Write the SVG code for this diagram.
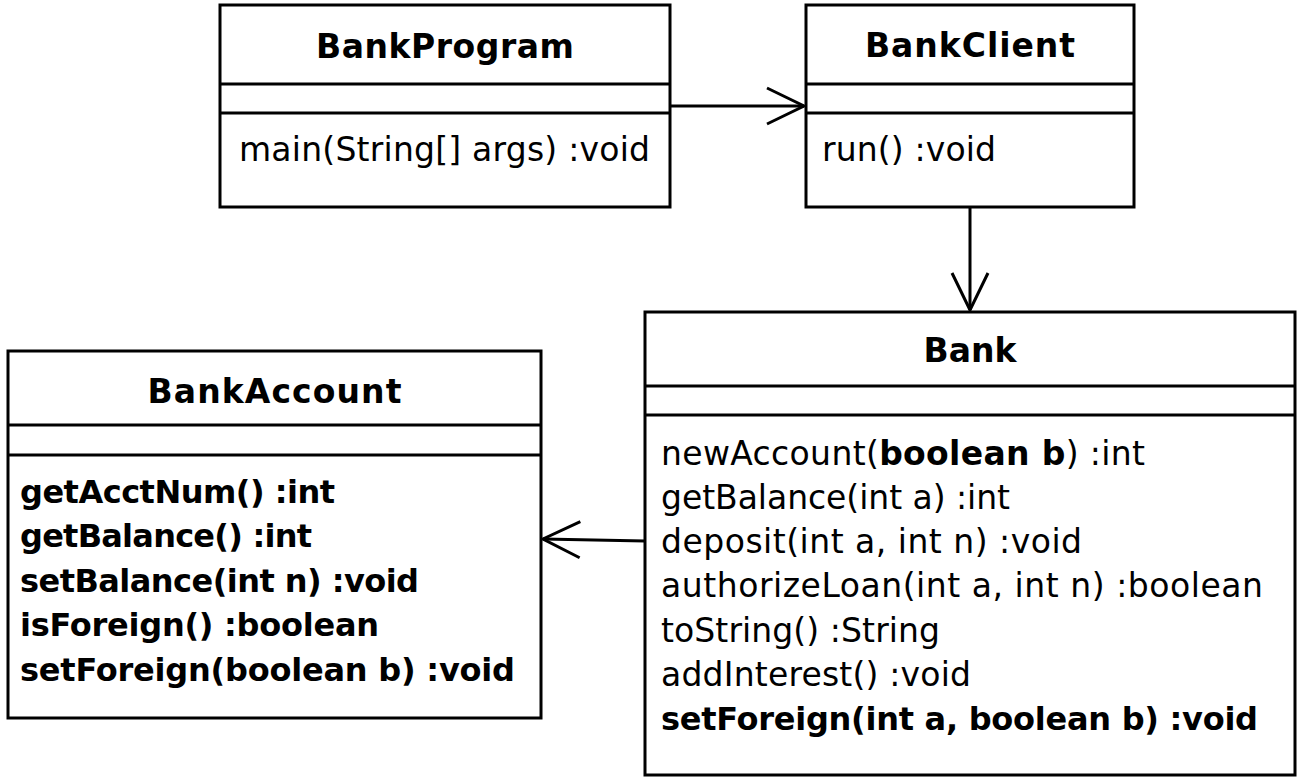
<svg xmlns="http://www.w3.org/2000/svg" width="1300" height="781" viewBox="0 0 1300 781">
<style>
.box{fill:#fff;stroke:#000;stroke-width:3}
.sep{stroke:#000;stroke-width:3}
.title{font-family:"DejaVu Sans",sans-serif;font-weight:bold;font-size:33px;fill:#000;text-anchor:middle}
.m{font-family:"DejaVu Sans",sans-serif;font-size:33px;fill:#000}
.b{font-weight:bold}
.mb{font-family:"DejaVu Sans",sans-serif;font-size:32px;font-weight:bold;fill:#000}
.conn{fill:none;stroke:#000;stroke-width:3}
</style>
<defs>
<marker id="open" markerUnits="userSpaceOnUse" markerWidth="44" markerHeight="44" viewBox="-40 -22 44 44" refX="0" refY="0" orient="auto" overflow="visible">
<path d="M -37 -18 L 0 0 L -37 18" fill="none" stroke="#000" stroke-width="3"/>
</marker>
</defs>
<rect width="1300" height="781" fill="#fff"/>
<g id="connectors">
<line class="conn" x1="670" y1="106" x2="804" y2="106" marker-end="url(#open)"/>
<line class="conn" x1="970" y1="207" x2="970" y2="310" marker-end="url(#open)"/>
<line class="conn" x1="645" y1="541" x2="543" y2="539" marker-end="url(#open)"/>
</g>
<g id="BankProgram">
<rect class="box" x="220" y="5" width="450" height="202"/>
<line class="sep" x1="220" y1="84" x2="670" y2="84"/>
<line class="sep" x1="220" y1="113" x2="670" y2="113"/>
<text class="title" x="445" y="58" textLength="258" lengthAdjust="spacing">BankProgram</text>
<text class="m" x="239" y="161" textLength="411" lengthAdjust="spacing">main(String[] args) :void</text>
</g>
<g id="BankClient">
<rect class="box" x="806" y="5" width="328" height="202"/>
<line class="sep" x1="806" y1="84" x2="1134" y2="84"/>
<line class="sep" x1="806" y1="113" x2="1134" y2="113"/>
<text class="title" x="970" y="57" textLength="210" lengthAdjust="spacing">BankClient</text>
<text class="m" x="822" y="161" textLength="174" lengthAdjust="spacing">run() :void</text>
</g>
<g id="Bank">
<rect class="box" x="645" y="312" width="650" height="463"/>
<line class="sep" x1="645" y1="386" x2="1295" y2="386"/>
<line class="sep" x1="645" y1="415" x2="1295" y2="415"/>
<text class="title" x="970" y="362" textLength="93" lengthAdjust="spacing">Bank</text>
<text class="m" x="661" y="465" textLength="484" lengthAdjust="spacing">newAccount(<tspan class="b">boolean b</tspan>) :int</text>
<text class="m" x="661" y="509" textLength="349" lengthAdjust="spacing">getBalance(int a) :int</text>
<text class="m" x="661" y="553" textLength="421" lengthAdjust="spacing">deposit(int a, int n) :void</text>
<text class="m" x="661" y="597" textLength="602" lengthAdjust="spacing">authorizeLoan(int a, int n) :boolean</text>
<text class="m" x="661" y="642" textLength="279" lengthAdjust="spacing">toString() :String</text>
<text class="m" x="661" y="686" textLength="310" lengthAdjust="spacing">addInterest() :void</text>
<text class="mb" x="661" y="730" textLength="597" lengthAdjust="spacing">setForeign(int a, boolean b) :void</text>
</g>
<g id="BankAccount">
<rect class="box" x="8" y="351" width="533" height="367"/>
<line class="sep" x1="8" y1="425" x2="541" y2="425"/>
<line class="sep" x1="8" y1="455" x2="541" y2="455"/>
<text class="title" x="274.5" y="403" textLength="254" lengthAdjust="spacing">BankAccount</text>
<text class="mb" x="20" y="503" textLength="315" lengthAdjust="spacing">getAcctNum() :int</text>
<text class="mb" x="20" y="547" textLength="292" lengthAdjust="spacing">getBalance() :int</text>
<text class="mb" x="20" y="592" textLength="399" lengthAdjust="spacing">setBalance(int n) :void</text>
<text class="mb" x="20" y="636" textLength="359" lengthAdjust="spacing">isForeign() :boolean</text>
<text class="mb" x="20" y="681" textLength="495" lengthAdjust="spacing">setForeign(boolean b) :void</text>
</g>
</svg>
